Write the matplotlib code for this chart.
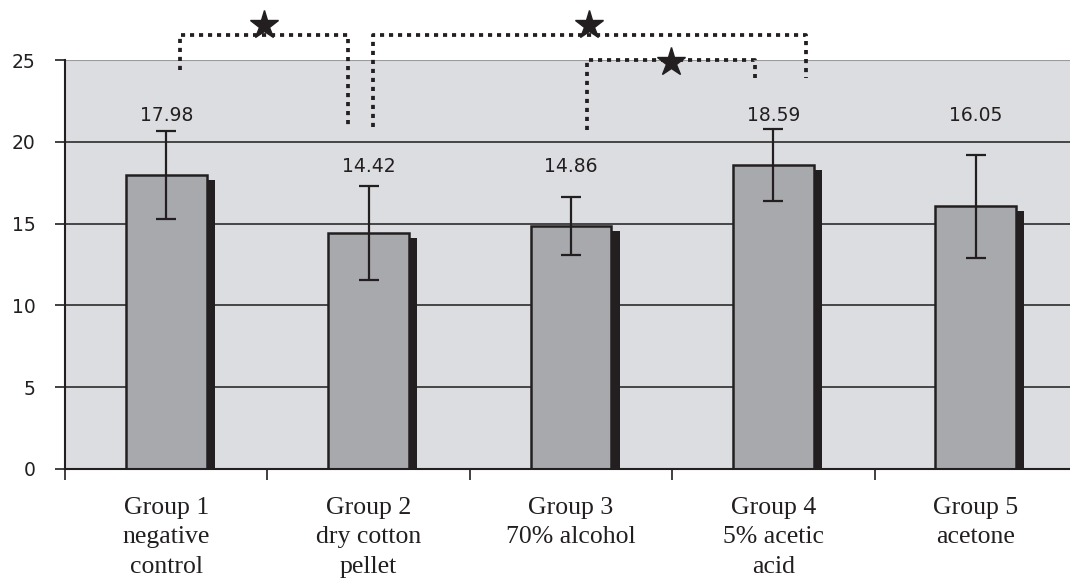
import matplotlib
matplotlib.use("Agg")
import matplotlib.pyplot as plt
import numpy as np

# Data
groups = ["Group 1\nnegative\ncontrol", "Group 2\ndry cotton\npellet",
          "Group 3\n70% alcohol", "Group 4\n5% acetic\nacid", "Group 5\nacetone"]
means = [17.98, 14.42, 14.86, 18.59, 16.05]
sds = [2.67, 2.85, 1.76, 2.20, 3.15]
yticks = [0, 5, 10, 15, 20, 25]

# Where the value labels sit (data units)
label_y = [21.6, 18.5, 18.5, 21.6, 21.6]

# Significance brackets: (x_left, y_left_end, x_right, y_right_end, y_top, star_y)
brackets = [
    (0.07, 24.39, 0.90, 20.90, 26.53, 27.15),
    (1.02, 20.90, 3.16, 23.90, 26.53, 27.15),
    (2.08, 20.72, 2.91, 23.90, 25.00, 24.90),
]

dark = "#231f20"
bg = "#dcdde0"
barc = "#a8a9ad"

fig = plt.figure(figsize=(10.70, 5.79), dpi=100)
ax = fig.add_axes([65 / 1070, 110 / 579, 1012 / 1070, 409 / 579])
ax.set_facecolor(bg)

x = np.arange(len(groups))
w = 0.4

# horizontal gridlines
for v in yticks[1:-1]:
    ax.axhline(v, color="#3a3a3a", lw=1.3, zorder=1)
ax.axhline(25, color="#9a9a9a", lw=1.5, zorder=1)

# drop shadows
ax.bar(x + 0.04, np.array(means) - 0.3, width=w, color=dark, zorder=2)
# main bars
ax.bar(x, means, width=w, color=barc, edgecolor=dark, linewidth=1.8, zorder=3)
ax.errorbar(x, means, yerr=sds, fmt="none", ecolor=dark, elinewidth=1.6,
            capsize=7, capthick=1.6, zorder=4)

for xi, m, ly in zip(x, means, label_y):
    ax.text(xi, ly, f"{m:.2f}", ha="center", va="center", fontsize=13.5,
            color=dark, family="DejaVu Sans", zorder=5)

# significance brackets
for xl, yl, xr, yr, yt, sy in brackets:
    ax.plot([xl, xl, xr, xr], [yl, yt, yt, yr], color=dark, lw=2.7,
            linestyle=(0, (1.1, 1.3)), dash_capstyle="butt", clip_on=False,
            zorder=6)
    ax.plot([(xl + xr) / 2], [sy], marker="*", ms=21, color=dark,
            markeredgecolor=dark, clip_on=False, zorder=7)

ax.set_xlim(-0.5, len(groups) - 0.5)
ax.set_ylim(0, 25)
ax.set_yticks(yticks)
ax.set_yticklabels([str(v) for v in yticks], fontsize=13.5, color=dark,
                   family="DejaVu Sans")
ax.tick_params(axis="y", length=7, width=1.2, pad=14, color=dark)

ax.set_xticks(np.arange(-0.5, len(groups), 1.0))
ax.set_xticklabels([])
ax.tick_params(axis="x", which="major", length=8, width=1.2, color=dark,
               direction="out")
ax.set_xticks(x, minor=True)
ax.set_xticklabels(groups, minor=True, fontsize=18.5, family="Liberation Serif",
                   color=dark, linespacing=1.45, va="top")
ax.tick_params(axis="x", which="minor", length=0, pad=20)

for s in ["top", "right"]:
    ax.spines[s].set_visible(False)
for s in ["left", "bottom"]:
    ax.spines[s].set_color(dark)
    ax.spines[s].set_linewidth(1.5)
    ax.spines[s].set_zorder(5)

fig.savefig("out.png", dpi=100)
